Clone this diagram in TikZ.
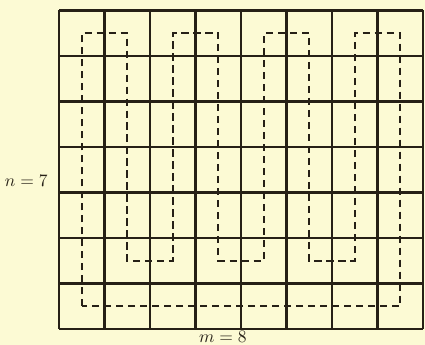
\documentclass[tikz,border=0pt]{standalone}
\usepackage{amsmath, amssymb}
\usepackage{tikz}
\usetikzlibrary{calc}
\definecolor{paper}{RGB}{252,250,212}
\definecolor{ink}{RGB}{38,32,22}

\begin{document}
\begin{tikzpicture}[x=1cm, y=1cm]
            \fill[paper] (-1.297,-0.35) rectangle (8.044,7.23);
            \useasboundingbox (-1.297,-0.35) rectangle (8.044,7.23);
            \coordinate (A) at (0,0);
            \coordinate (B) at (8,7);
            \draw[ink, line width=1.3pt] (A) grid (B);
            \draw[ink, line width=1.2pt, dash pattern=on 4.5pt off 3pt]
                (0.5,0.5) -- (0.5,6.5) -- (1.5,6.5) -- (1.5,1.5) -- (2.5,1.5)
                -- (2.5,6.5) -- (3.5,6.5) -- (3.5,1.5) -- (4.5,1.5) -- (4.5,6.5)
                -- (5.5,6.5) -- (5.5,1.5) -- (6.5,1.5) -- (6.5,6.5) -- (7.5,6.5)
                -- (7.5,0.5) -- cycle;
            \node[ink, font=\fontsize{11}{13}\selectfont, inner sep=0pt] (n) at (-0.72,3.25) {$n=7$};
            \node[ink, font=\fontsize{11}{13}\selectfont, inner sep=0pt] (m) at (3.6,-0.18) {$m=8$};
        \end{tikzpicture}
\end{document}
